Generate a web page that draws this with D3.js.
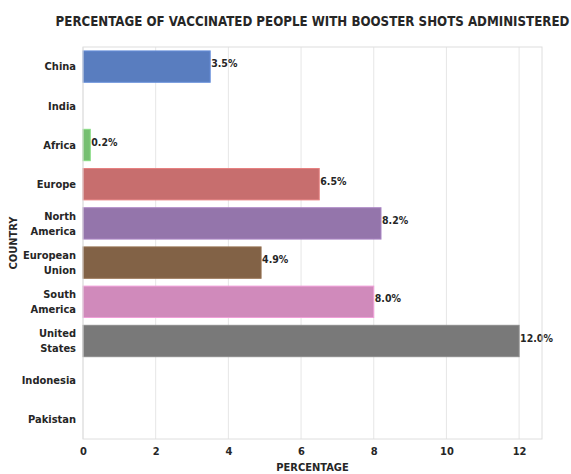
<!DOCTYPE html>
<html>
<head>
<meta charset="utf-8">
<script src="https://cdn.jsdelivr.net/npm/d3@7"></script>
<style>
	body { margin: 0; background: #fff; }
	text { font-family: "DejaVu Sans Condensed", "DejaVu Sans", sans-serif; font-weight: bold; fill: #262626; }
</style>
</head>
<body>
<div id="chart"></div>
<script>
// data
var countries = ["China", "India", "Africa", "Europe", "North America", "European Union", "South America", "United States", "Indonesia", "Pakistan"];
var percentages = [3.5, null, 0.2, 6.5, 8.2, 4.9, 8.0, 12.0, null, null];
var xTicks = [0, 2, 4, 6, 8, 10, 12];
var palette = ["#4878d0", "#ee854a", "#6acc64", "#d65f5f", "#956cb4", "#8c613c", "#dc7ec0", "#797979", "#d5bb67", "#82c6e2"];

// seaborn style desaturation
function desat(c) {
	var h = d3.hsl(c);
	h.s *= 0.75;
	return h.formatHex();
}

var margin = {top: 47, right: 29, bottom: 35, left: 83};
var width = 571 - margin.left - margin.right;
var height = 474 - margin.top - margin.bottom;

var svg = d3.select("#chart").append("svg")
	.attr("width", 571)
	.attr("height", 474);

var g = svg.append("g")
	.attr("transform", "translate(" + margin.left + "," + margin.top + ")");

// set the ranges
var x = d3.scaleLinear().domain([0, 12.63]).range([0, width]);
var y = d3.scaleBand().domain(countries).range([0, height]).paddingInner(0.2).paddingOuter(0.1);

// grid lines
g.selectAll(".grid")
	.data(xTicks)
	.enter().append("line")
	.attr("x1", function(d) { return x(d); })
	.attr("x2", function(d) { return x(d); })
	.attr("y1", 0)
	.attr("y2", height)
	.attr("stroke", "#e6e6e6")
	.attr("stroke-width", 1);

// bars
var data = countries.map(function(c, i) { return {country: c, value: percentages[i], color: desat(palette[i])}; });

g.selectAll(".bar")
	.data(data.filter(function(d) { return d.value != null; }))
	.enter().append("rect")
	.attr("x", x(0))
	.attr("y", function(d) { return y(d.country); })
	.attr("width", function(d) { return x(d.value) - x(0); })
	.attr("height", y.bandwidth())
	.attr("fill", function(d) { return d.color; })
	.attr("stroke", function(d) { return d3.color(d.color).brighter(0.4); })
	.attr("stroke-width", 1);

// value labels
g.selectAll(".val")
	.data(data.filter(function(d) { return d.value != null; }))
	.enter().append("text")
	.attr("x", function(d) { return x(d.value) + 1; })
	.attr("y", function(d) { return y(d.country) + y.bandwidth() / 2 - 3; })
	.attr("dy", "0.35em")
	.style("font-size", "10.5px")
	.text(function(d) { return d.value.toFixed(1) + "%"; });

// frame
g.append("rect")
	.attr("width", width)
	.attr("height", height)
	.attr("fill", "none")
	.attr("stroke", "#dedede")
	.attr("stroke-width", 1);

// x axis
var xAxis = g.append("g")
	.attr("transform", "translate(0," + height + ")")
	.call(d3.axisBottom(x).tickValues(xTicks).tickSize(0).tickPadding(8).tickFormat(d3.format("d")));
xAxis.select(".domain").remove();
xAxis.selectAll("text").style("font-size", "11px").attr("fill", "#262626");

// y axis with wrapped labels
var yAxis = g.append("g")
	.call(d3.axisLeft(y).tickSize(0).tickPadding(7).tickFormat(""));
yAxis.select(".domain").remove();
yAxis.selectAll(".tick").each(function(d) {
	var words = d.split(" ");
	var t = d3.select(this).append("text")
		.attr("x", -7)
		.attr("text-anchor", "end")
		.style("font-size", "11px");
	var lh = 15;
	words.forEach(function(w, i) {
		t.append("tspan")
			.attr("x", -7)
			.attr("y", (i - (words.length - 1) / 2) * lh)
			.attr("dy", "0.35em")
			.text(w);
	});
});

// title and axis labels
svg.append("text")
	.attr("x", margin.left + width / 2)
	.attr("y", 26)
	.attr("text-anchor", "middle")
	.style("font-size", "13.2px")
	.text("PERCENTAGE OF VACCINATED PEOPLE WITH BOOSTER SHOTS ADMINISTERED");

svg.append("text")
	.attr("x", margin.left + width / 2)
	.attr("y", 471)
	.attr("text-anchor", "middle")
	.style("font-size", "11px")
	.text("PERCENTAGE");

svg.append("text")
	.attr("transform", "translate(17," + (margin.top + height / 2) + ") rotate(-90)")
	.attr("text-anchor", "middle")
	.style("font-size", "11px")
	.text("COUNTRY");
</script>
</body>
</html>
